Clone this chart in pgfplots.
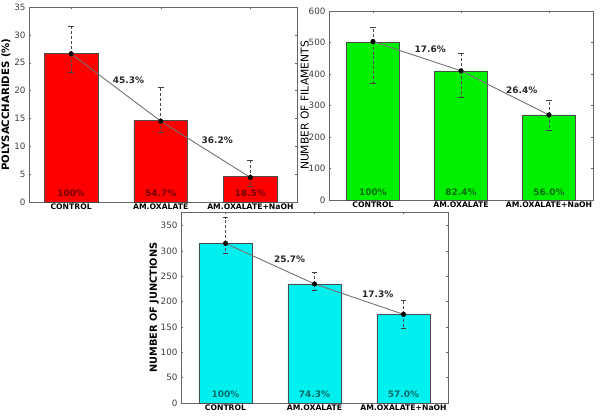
\documentclass[border=0pt]{standalone}
\usepackage{pgfplots}
\pgfplotsset{compat=1.18}
\usepackage{fontspec}
\setmainfont{DejaVu Sans}
\definecolor{barred}{RGB}{255,0,0}
\definecolor{bargreen}{RGB}{0,240,0}
\definecolor{barcyan}{RGB}{0,240,240}
\begin{document}
\begin{tikzpicture}
\useasboundingbox (0,0) rectangle (600bp,418bp);
\tikzset{
  pct/.style={font=\fontsize{9}{10}\selectfont\bfseries, text=black!85},
  base/.style={font=\fontsize{9}{10}\selectfont\bfseries, text opacity=0.55},
}
\pgfplotsset{
  panel/.style={
    scale only axis,
    anchor=south west,
    xmin=-0.5, xmax=2.5,
    ymin=0,
    xtick={0,1,2},
    xticklabels={CONTROL,AM.OXALATE,AM.OXALATE+NaOH},
    xticklabel style={font=\fontsize{7.7}{8}\selectfont\bfseries, yshift=2pt},
    yticklabel style={font=\fontsize{8.8}{10}\selectfont, text=black!75},
    /pgf/number format/assume math mode=true,
    tick align=inside,
    major tick length=2.5pt,
    tick style={black!60, line width=0.4pt},
    axis line style={black!60, line width=0.6pt},
    ylabel style={font=\fontsize{10.2}{11}\selectfont\bfseries, anchor=center},
    clip=false,
  },
  barstyle/.style={ybar, bar width=0.6, draw=black!70, line width=0.4pt, bar shift=0pt},
  linestyle/.style={color=black!55, line width=0.9pt, mark=*, mark size=2.1pt,
    mark options={solid, fill=black, draw=black},
    error bars/.cd, y dir=both, y explicit,
    error bar style={black!70, dashed, line width=0.6pt, dash pattern=on 3pt off 2pt},
    error mark options={rotate=90, black!75, solid, mark size=3pt, line width=0.6pt}},
}
% Panel 1
\begin{axis}[panel, at={(29bp,216bp)}, width=268bp, height=195bp,
  xmin=-0.47, xmax=2.52, ymax=35, ytick={0,5,...,35},
  ylabel style={at={(axis description cs:-0.086,0.5)}},
  ylabel={POLYSACCHARIDES (\%)}]
\addplot[barstyle, fill=barred] coordinates {(0,26.7) (1,14.6) (2,4.6)};
\addplot[linestyle] coordinates {(0,26.6) += (0,5.0) -= (0,3.3) (1,14.5) += (0,6.1) -= (0,2.0) (2,4.4) += (0,3.0) -= (0,1.5)};
\node[pct] at (axis cs:0.64,21.9) {45.3\%};
\node[pct] at (axis cs:1.63,11.1) {36.2\%};
\node[base] at (axis cs:0,1.5) {100\%};
\node[base] at (axis cs:1,1.5) {54.7\%};
\node[base] at (axis cs:2,1.5) {18.5\%};
\end{axis}
% Panel 2
\begin{axis}[panel, at={(329bp,218bp)}, width=264bp, height=189bp,
  ymax=600, ytick={0,100,...,600},
  ylabel style={font=\fontsize{10.8}{11}\selectfont\mdseries, at={(axis description cs:-0.092,0.5)}},
  ylabel={NUMBER OF FILAMENTS}]
\addplot[barstyle, fill=bargreen] coordinates {(0,500) (1,410) (2,270)};
\addplot[linestyle] coordinates {(0,503) += (0,45) -= (0,133) (1,410) += (0,55) -= (0,85) (2,270) += (0,45) -= (0,48)};
\node[pct] at (axis cs:0.65,479) {17.6\%};
\node[pct] at (axis cs:1.69,349) {26.4\%};
\node[base] at (axis cs:0,25) {100\%};
\node[base] at (axis cs:1,25) {82.4\%};
\node[base] at (axis cs:2,25) {56.0\%};
\end{axis}
% Panel 3
\begin{axis}[panel, at={(181bp,15bp)}, width=267bp, height=191bp,
  ymax=377, ytick={0,50,...,350},
  ylabel style={font=\fontsize{9.8}{11}\selectfont\bfseries, at={(axis description cs:-0.1,0.5)}},
  ylabel={NUMBER OF JUNCTIONS}]
\addplot[barstyle, fill=barcyan] coordinates {(0,315) (1,235) (2,175)};
\addplot[linestyle] coordinates {(0,315) += (0,52) -= (0,20) (1,235) += (0,23) -= (0,13) (2,175) += (0,27) -= (0,27)};
\node[pct] at (axis cs:0.72,284) {25.7\%};
\node[pct] at (axis cs:1.71,215) {17.3\%};
\node[base] at (axis cs:0,18) {100\%};
\node[base] at (axis cs:1,18) {74.3\%};
\node[base] at (axis cs:2,18) {57.0\%};
\end{axis}
\end{tikzpicture}
\end{document}
